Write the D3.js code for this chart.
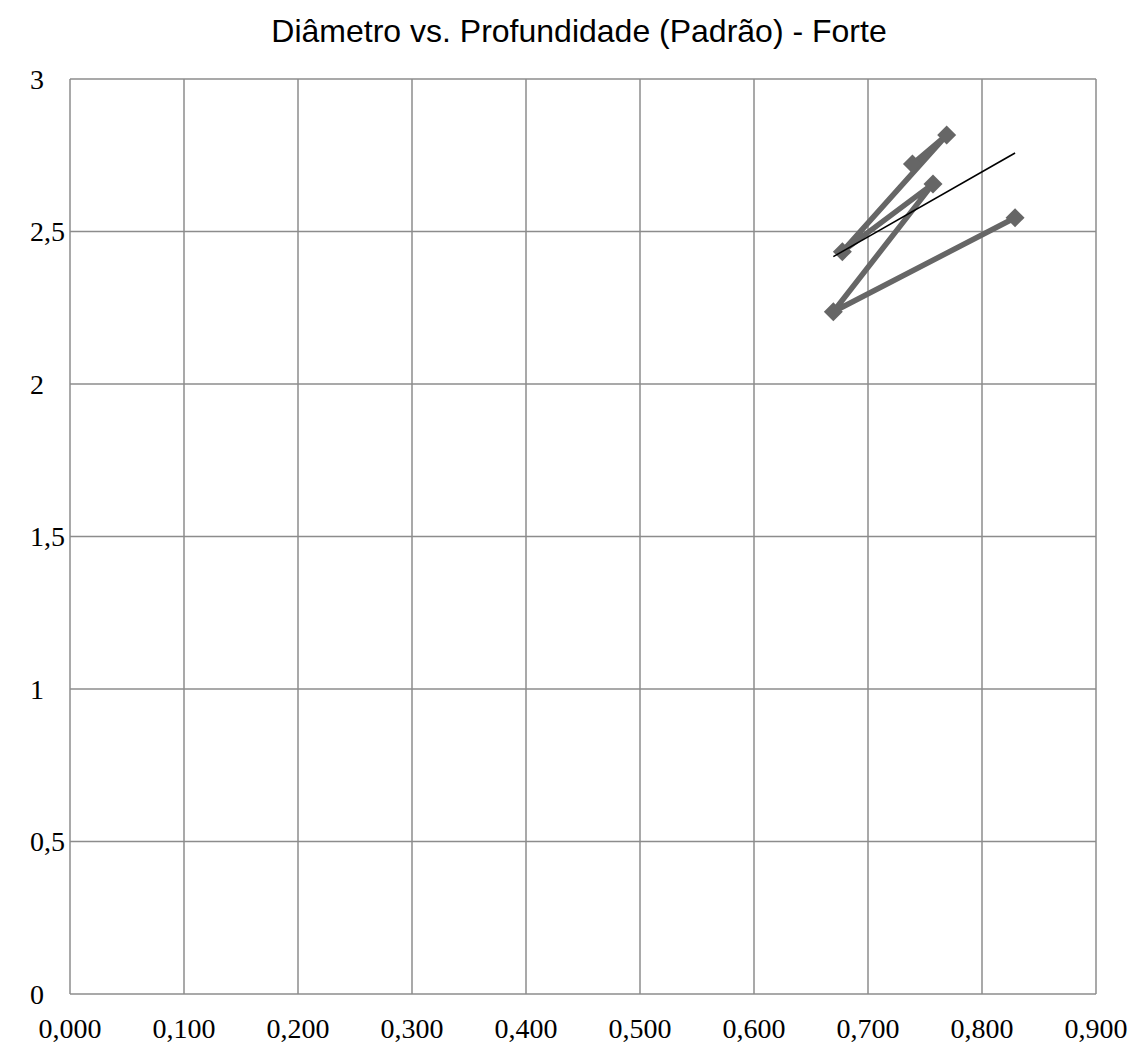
<!DOCTYPE html>
<html>
<head>
<meta charset="utf-8">
<script src="https://cdn.jsdelivr.net/npm/d3@7"></script>
<style>
  html, body { margin: 0; padding: 0; background: #fff; }
  svg { display: block; }
</style>
</head>
<body>
<svg id="chart" width="1131" height="1044"></svg>
<script>
// Measurements: diameter (x) vs depth (y), in the order they were taken
const diametro = [0.739, 0.769, 0.6775, 0.757, 0.6696, 0.829];
const profundidade = [2.721, 2.816, 2.434, 2.656, 2.237, 2.545];

const xTicks = [0, 0.1, 0.2, 0.3, 0.4, 0.5, 0.6, 0.7, 0.8, 0.9];
const yTicks = [0, 0.5, 1, 1.5, 2, 2.5, 3];

const titulo = "Diâmetro vs. Profundidade (Padrão) - Forte";

const svg = d3.select("#chart");
const margin = { left: 70, right: 35, top: 79, bottom: 50 };
const W = 1131, H = 1044;

const x = d3.scaleLinear().domain([0, 0.9]).range([margin.left, W - margin.right]);
const y = d3.scaleLinear().domain([0, 3]).range([H - margin.bottom, margin.top]);

const fmtX = v => d3.format(".3f")(v).replace(".", ",");
const fmtY = v => String(v).replace(".", ",");

// Grid
const grid = svg.append("g").attr("stroke", "#8c8c8c").attr("stroke-width", 1.5);
grid.selectAll("line.v").data(xTicks).join("line")
  .attr("x1", d => x(d)).attr("x2", d => x(d))
  .attr("y1", y(0)).attr("y2", y(3));
grid.selectAll("line.h").data(yTicks).join("line")
  .attr("x1", x(0)).attr("x2", x(0.9))
  .attr("y1", d => y(d)).attr("y2", d => y(d));

// Axis labels
const labelFont = "'Liberation Serif', 'DejaVu Serif', serif";
svg.append("g").selectAll("text").data(xTicks).join("text")
  .attr("x", d => x(d)).attr("y", H - 6)
  .attr("text-anchor", "middle")
  .attr("font-family", labelFont).attr("font-size", 28)
  .attr("fill", "#000")
  .text(fmtX);

svg.append("g").selectAll("text").data(yTicks).join("text")
  .attr("x", 30).attr("y", d => y(d))
  .attr("dy", "0.35em")
  .attr("text-anchor", "start")
  .attr("font-family", labelFont).attr("font-size", 28)
  .attr("fill", "#000")
  .text(fmtY);

// Title
svg.append("text")
  .attr("x", 579).attr("y", 42)
  .attr("text-anchor", "middle")
  .attr("font-family", "'Liberation Sans', Arial, sans-serif")
  .attr("font-size", 32)
  .attr("fill", "#000")
  .text(titulo);

// Series line connecting the points in order
const pts = diametro.map((d, i) => [d, profundidade[i]]);
svg.append("path")
  .datum(pts)
  .attr("fill", "none")
  .attr("stroke", "#666666")
  .attr("stroke-width", 5.5)
  .attr("stroke-linejoin", "round")
  .attr("d", d3.line().x(d => x(d[0])).y(d => y(d[1])));

// Diamond markers
const diamond = d3.symbol().type(d3.symbolDiamond2).size(230);
svg.append("g").selectAll("path").data(pts).join("path")
  .attr("transform", d => `translate(${x(d[0])},${y(d[1])})`)
  .attr("d", diamond)
  .attr("fill", "#666666");

// Linear trend line (least squares) across the x range of the data
const mx = d3.mean(diametro), my = d3.mean(profundidade);
const sxy = d3.sum(pts, d => (d[0] - mx) * (d[1] - my));
const sxx = d3.sum(pts, d => (d[0] - mx) ** 2);
const slope = sxy / sxx, intercept = my - slope * mx;
const [x0, x1] = d3.extent(diametro);
svg.append("line")
  .attr("x1", x(x0)).attr("y1", y(intercept + slope * x0))
  .attr("x2", x(x1)).attr("y2", y(intercept + slope * x1))
  .attr("stroke", "#000").attr("stroke-width", 1.6);
</script>
</body>
</html>
